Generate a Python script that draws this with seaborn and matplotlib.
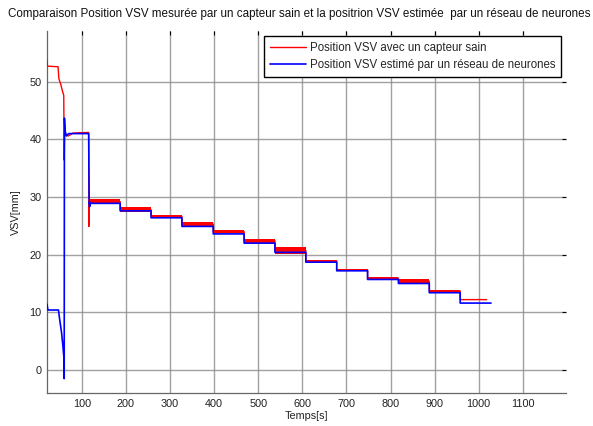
import numpy as np
import pandas as pd
import matplotlib
matplotlib.use("Agg")
import matplotlib.pyplot as plt
import seaborn as sns

# Start-up transient of the measured position (time [s], VSV [mm])
red_start_t = [21, 22, 46, 48, 52, 56, 59, 60, 61, 64, 70, 80, 115.5, 116, 116.5]
red_start_v = [53.8, 52.7, 52.6, 50.5, 49.6, 48.4, 47.6, 36.4, 41.6, 40.7, 40.6, 41.1, 41.2, 24.9, 29.4]

# Start-up transient of the neural-network estimate
blue_start_t = [21, 23, 47, 50, 54, 57, 59.5, 60, 60.5, 62, 65, 70, 115.5, 116.5, 117.5, 119]
blue_start_v = [11.4, 10.4, 10.4, 8.6, 6.5, 4.2, 2.0, -1.5, 43.7, 41.5, 40.6, 41.0, 41.0, 30.0, 28.3, 28.9]

# Plateaus after the start-up: segment start times and levels
step_t = [116.5, 187, 257, 327, 398, 468, 538, 608, 678, 748, 818, 888, 958]
red_end = 1018
blue_end = 1028
red_levels = [29.2, 27.8, 26.6, 25.3, 24.0, 22.4, 20.7, 18.9, 17.3, 15.9, 15.4, 13.7, 12.2]
red_spread = [0.4, 0.4, 0.25, 0.4, 0.3, 0.4, 0.6, 0.2, 0.15, 0.3, 0.3, 0.2, 0.1]
blue_levels = [28.9, 27.6, 26.4, 24.9, 23.6, 22.0, 20.4, 18.7, 17.2, 15.7, 15.0, 13.4, 11.6]

x_ticks = [100, 200, 300, 400, 500, 600, 700, 800, 900, 1000, 1100]
y_ticks = [0, 10, 20, 30, 40, 50]


def plateau_path(starts, end, levels):
    bounds = list(starts[1:]) + [end]
    ts, vs = [], []
    for s, e, lv in zip(starts, bounds, levels):
        ts += [s, e]
        vs += [lv, lv]
    return ts, vs


rt, rv = plateau_path(step_t, red_end, red_levels)
_, rs = plateau_path(step_t, red_end, red_spread)
bt, bv = plateau_path(step_t, blue_end, blue_levels)

red = pd.DataFrame({"t": red_start_t + rt, "v": red_start_v + rv})
blue = pd.DataFrame({"t": blue_start_t + bt, "v": blue_start_v + bv})

sns.set_theme(style="white")
plt.rcParams["font.family"] = ["Liberation Sans", "DejaVu Sans"]

fig = plt.figure(figsize=(5.93, 4.26), dpi=100)
ax = fig.add_axes([47 / 593, 1 - 393 / 426, (566 - 47) / 593, (393 - 31) / 426])

# noise band of the measured signal on each plateau
ax.fill_between(rt, np.array(rv) - np.array(rs), np.array(rv) + np.array(rs),
                color="#ff0000", lw=0, zorder=2)

sns.lineplot(data=red, x="t", y="v", sort=False, estimator=None, ax=ax,
             color="#ff0000", lw=1.0, label="Position VSV avec un capteur sain", zorder=3)
sns.lineplot(data=blue, x="t", y="v", sort=False, estimator=None, ax=ax,
             color="#0000ff", lw=1.2, label="Position VSV estimé par un réseau de neurones", zorder=4)

ax.set_xlim(21, 1198)
ax.set_ylim(-4, 58.8)
ax.set_xticks(x_ticks)
ax.set_yticks(y_ticks)
ax.set_xticklabels([str(v) for v in x_ticks])
ax.set_yticklabels([str(v) for v in y_ticks])

ax.grid(True, color="#8a8a8a", lw=1.0, alpha=0.8)
ax.set_axisbelow(True)
for side in ["top", "right"]:
    ax.spines[side].set_visible(False)
for side in ["left", "bottom"]:
    ax.spines[side].set_color("#666666")
    ax.spines[side].set_linewidth(0.9)
ax.tick_params(axis="both", direction="in", length=3, width=0.8, color="black",
               labelsize=7.8, labelcolor="#222222", top=True, right=True, pad=4)

ax.set_xlabel("Temps[s]", fontsize=7.8, labelpad=2, color="#222222")
ax.set_ylabel("VSV[mm]", fontsize=7.8, labelpad=6, color="#222222")

fig.text(299 / 593, 1 - 14 / 426,
         "Comparaison Position VSV mesurée par un capteur sain et la positrion VSV estimée  par un réseau de neurones",
         ha="center", va="center", fontsize=8.35, color="#111111")

leg = ax.legend(loc="upper right", bbox_to_anchor=((561 - 47) / 519, (393 - 36) / 362),
                fontsize=8.3, frameon=True, fancybox=False, framealpha=1,
                edgecolor="black", handlelength=3.1, handletextpad=0.35,
                borderpad=0.5, labelspacing=0.45, borderaxespad=0)
leg.get_frame().set_linewidth(1.0)

fig.savefig("out.png", dpi=100)
